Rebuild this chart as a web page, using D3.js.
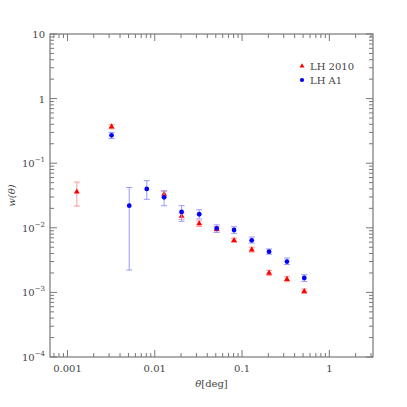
<!DOCTYPE html>
<html>
<head>
<meta charset="utf-8">
<script src="https://cdn.jsdelivr.net/npm/d3@7"></script>
<style>
  body { margin: 0; background: #fff; }
  svg text { font-family: "DejaVu Serif", "Liberation Serif", serif; fill: #444; }
</style>
</head>
<body>
<div id="chart"></div>
<script>
// LH 2010 (red triangles)
const redTheta = [0.00128, 0.0032, 0.0128, 0.0203, 0.0323, 0.0512, 0.081, 0.129, 0.204, 0.327, 0.516];
const redW     = [0.036, 0.367, 0.0333, 0.0152, 0.0116, 0.0095, 0.0064, 0.00458, 0.0020, 0.0016, 0.00104];
const redLo    = [0.0217, 0.34, 0.030, 0.0135, 0.0105, 0.0086, 0.0059, 0.0042, 0.00183, 0.00146, 0.00096];
const redHi    = [0.051, 0.395, 0.0368, 0.017, 0.0128, 0.0105, 0.0069, 0.0050, 0.00219, 0.00175, 0.00113];

// LH A1 (blue circles)
const blueTheta = [0.0032, 0.0051, 0.0081, 0.0128, 0.0203, 0.0323, 0.0512, 0.081, 0.129, 0.204, 0.327, 0.516];
const blueW     = [0.27, 0.022, 0.040, 0.0296, 0.0176, 0.0162, 0.0098, 0.00925, 0.0064, 0.00427, 0.0030, 0.00167];
const blueLo    = [0.24, 0.00222, 0.0276, 0.022, 0.0126, 0.0137, 0.0085, 0.0082, 0.0058, 0.0039, 0.0027, 0.00148];
const blueHi    = [0.30, 0.042, 0.0536, 0.0375, 0.022, 0.0190, 0.0111, 0.0104, 0.0072, 0.0047, 0.0034, 0.00188];

const xTicks = [0.001, 0.01, 0.1, 1];
const xTickLabels = ["0.001", "0.01", "0.1", "1"];
const yTicks = [10, 1, 0.1, 0.01, 0.001, 0.0001];
const yTickBase = ["10", "1", "10", "10", "10", "10"];
const yTickExp  = ["", "", "−1", "−2", "−3", "−4"];

const width = 407, height = 407;
const margins = {top: 34, right: 34, bottom: 50, left: 50};

const svg = d3.select("#chart").append("svg")
  .attr("width", width).attr("height", height);

const xScale = d3.scaleLog()
  .domain([Math.pow(10, -3.2), Math.pow(10, 0.5)])
  .range([margins.left, width - margins.right]);

const yScale = d3.scaleLog()
  .domain([0.0001, 10])
  .range([height - margins.bottom, margins.top]);

const axisColor = "#777";
const x0 = margins.left, x1 = width - margins.right;
const y0 = margins.top, y1 = height - margins.bottom;

// frame
svg.append("rect")
  .attr("x", x0).attr("y", y0)
  .attr("width", x1 - x0).attr("height", y1 - y0)
  .attr("fill", "none").attr("stroke", axisColor).attr("stroke-width", 1.2);

// minor tick values
const minors = (lo, hi) => {
  const out = [];
  for (let e = -5; e <= 2; e++) {
    for (let m = 1; m <= 9; m++) {
      const v = m * Math.pow(10, e);
      if (v >= lo && v <= hi) out.push({v, major: m === 1});
    }
  }
  return out;
};

const xt = minors(xScale.domain()[0], xScale.domain()[1]);
const yt = minors(0.0001, 10);

const tickG = svg.append("g").attr("stroke", axisColor).attr("stroke-width", 1);
xt.forEach(t => {
  const len = t.major ? 7 : 4;
  const x = xScale(t.v);
  tickG.append("line").attr("x1", x).attr("x2", x).attr("y1", y1).attr("y2", y1 - len);
  tickG.append("line").attr("x1", x).attr("x2", x).attr("y1", y0).attr("y2", y0 + len);
});
yt.forEach(t => {
  const len = t.major ? 7 : 4;
  const y = yScale(t.v);
  tickG.append("line").attr("x1", x0).attr("x2", x0 + len).attr("y1", y).attr("y2", y);
  tickG.append("line").attr("x1", x1).attr("x2", x1 - len).attr("y1", y).attr("y2", y);
});

// x tick labels
svg.append("g").selectAll("text")
  .data(xTicks)
  .join("text")
    .attr("x", d => xScale(d))
    .attr("y", y1 + 15)
    .attr("text-anchor", "middle")
    .style("font-size", "10px")
    .text((d, i) => xTickLabels[i]);

// y tick labels with superscripts
const yl = svg.append("g").selectAll("text")
  .data(yTicks)
  .join("text")
    .attr("x", x0 - 5)
    .attr("y", d => yScale(d) + 4)
    .attr("text-anchor", "end")
    .style("font-size", "10px");
yl.append("tspan").text((d, i) => yTickBase[i]);
yl.append("tspan")
  .attr("dy", -5)
  .style("font-size", "7px")
  .text((d, i) => yTickExp[i]);

// axis titles
svg.append("text")
  .attr("x", (x0 + x1) / 2 + 0)
  .attr("y", y1 + 30)
  .attr("text-anchor", "middle")
  .style("font-size", "10px")
  .html('<tspan font-style="italic">θ</tspan>[deg]');

svg.append("text")
  .attr("transform", `translate(15, ${(y0 + y1) / 2}) rotate(-90)`)
  .attr("text-anchor", "middle")
  .style("font-size", "10px")
  .style("font-style", "italic")
  .text("w(θ)");

// series
const drawSeries = (theta, w, lo, hi, lineColor, color, shape) => {
  const g = svg.append("g");
  const rows = theta.map((t, i) => ({t, w: w[i], lo: lo[i], hi: hi[i]}));
  const err = g.selectAll("g.err").data(rows).join("g").attr("class", "err")
    .attr("stroke", lineColor).attr("stroke-width", 1);
  err.append("line")
    .attr("x1", d => xScale(d.t)).attr("x2", d => xScale(d.t))
    .attr("y1", d => yScale(d.lo)).attr("y2", d => yScale(d.hi));
  err.append("line")
    .attr("x1", d => xScale(d.t) - 3).attr("x2", d => xScale(d.t) + 3)
    .attr("y1", d => yScale(d.lo)).attr("y2", d => yScale(d.lo));
  err.append("line")
    .attr("x1", d => xScale(d.t) - 3).attr("x2", d => xScale(d.t) + 3)
    .attr("y1", d => yScale(d.hi)).attr("y2", d => yScale(d.hi));
  const sym = d3.symbol().type(shape).size(shape === d3.symbolCircle ? 18 : 15);
  g.selectAll("path.pt").data(rows).join("path").attr("class", "pt")
    .attr("transform", d => `translate(${xScale(d.t)},${yScale(d.w)})`)
    .attr("d", sym)
    .attr("fill", color);
};

drawSeries(redTheta, redW, redLo, redHi, "#f99", "#f00", d3.symbolTriangle);
drawSeries(blueTheta, blueW, blueLo, blueHi, "#99f", "#00f", d3.symbolCircle);

// legend
const legend = [
  {label: "LH 2010", color: "#f00", shape: d3.symbolTriangle, size: 10},
  {label: "LH A1", color: "#00f", shape: d3.symbolCircle, size: 14}
];
const lg = svg.append("g").selectAll("g").data(legend).join("g")
  .attr("transform", (d, i) => `translate(302, ${66 + i * 14})`);
lg.append("path")
  .attr("d", d => d3.symbol().type(d.shape).size(d.size)())
  .attr("fill", d => d.color);
lg.append("text")
  .attr("x", 8).attr("y", 4)
  .style("font-size", "10px")
  .text(d => d.label);
</script>
</body>
</html>
